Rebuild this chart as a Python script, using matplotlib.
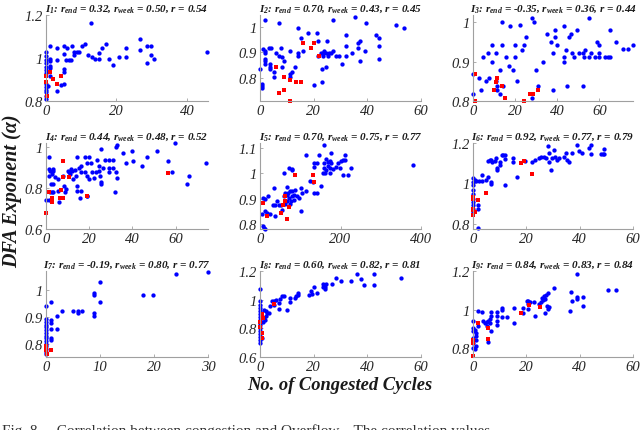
import numpy as np
import matplotlib
matplotlib.use('Agg')
import matplotlib.pyplot as plt
from matplotlib.ticker import FuncFormatter

plt.rcParams['font.family'] = 'Liberation Serif'
plt.rcParams['mathtext.fontset'] = 'custom'
plt.rcParams['mathtext.rm'] = 'Liberation Serif:bold:italic'
plt.rcParams['mathtext.it'] = 'Liberation Serif:bold:italic'
plt.rcParams['mathtext.bf'] = 'Liberation Serif:bold:italic'

# correlation values shown in the panel titles
r_end = ['0.32', '0.70', '-0.35', '0.44', '0.70', '0.92', '-0.19', '0.60', '0.84']
r_week = ['0.50', '0.43', '0.36', '0.48', '0.75', '0.77', '0.80', '0.82', '0.83']
r_all = ['0.54', '0.45', '0.44', '0.52', '0.77', '0.79', '0.77', '0.81', '0.84']

# (congested cycles, DFA exponent); blue = weekday, red = weekend
p1_blue = np.array([[12.9,1.165],[26.8,1.088],[26.8,1.037],[28.8,1.056],[29.9,1.056],[29.9,1.016],[30.7,0.995],
    [28.8,0.976],[45.7,1.027],[22.8,1.045],[22.8,1.005],[20.8,1.005],[18.9,0.966],[17.9,0.995],[16.9,1.067],
    [15.9,1.045],[15.0,1.024],[15.0,0.995],[14.0,0.995],[13.2,1.005],[12.0,1.016],[11.2,1.067],[10.1,1.056],
    [9.3,1.027],[8.7,1.027],[7.5,1.056],[7.9,1.027],[8.0,1.013],[7.1,0.99],[6.5,0.99],[5.6,0.99],[5.2,1.019],
    [6.1,1.045],[5.2,1.056],[3.2,1.045],[3.2,0.99],[5.2,0.947],[5.2,0.936],[5.2,0.88],[4.2,0.875],[3.2,0.848],
    [1.1,1.056],[1.1,0.997],[1.1,0.917],[1.1,0.952],[0,1.03],[0,1.01],[0,0.99],[0,0.975],[0,0.96],[0,0.945],
    [0,0.93],[0,0.88],[0,0.865],[0,0.85],[0,0.84],[0,0.825],[0,0.81],[1.0,0.985],[1.0,0.965],[0.5,0.87]])
p1_red = np.array([[0,0.917],[1.0,0.936],[2.1,0.9],[3.2,0.877],[4.2,0.917],[0.2,0.824],[0,0.89]])

p2_blue = np.array([[1.9,1.025],[6.9,1.015],[14.1,0.996],[17.9,0.975],[21.2,0.975],[27.1,1.025],[35.4,1.036],
    [39.4,1.015],[50.5,1.006],[53.7,0.996],[32.2,0.966],[43.3,0.966],[44.2,0.955],[15.2,0.955],[21.5,0.943],
    [25.0,0.944],[32.2,0.925],[36.4,0.935],[37.3,0.945],[44.2,0.925],[27.1,0.904],[39.1,0.904],[36.6,0.916],
    [34.1,0.896],[32.2,0.885],[28.4,0.885],[29.4,0.885],[30.5,0.855],[37.3,0.865],[44.2,0.875],[22.6,0.896],
    [23.6,0.896],[24.5,0.896],[25.8,0.896],[21.5,0.885],[23.4,0.885],[25.3,0.885],[26.6,0.896],[24.0,0.905],
    [23.1,0.834],[24.6,0.843],[23.1,0.783],[20.2,0.773],[16.2,0.905],[14.1,0.885],[14.1,0.896],[11.0,0.905],
    [7.8,0.915],[6.1,0.896],[6.9,0.885],[8.2,0.883],[9.1,0.865],[8.1,0.842],[11.0,0.815],[12.0,0.824],
    [13.0,0.843],[11.1,0.803],[3.3,0.915],[1.3,0.913],[1.9,0.904],[1.9,0.896],[1.9,0.875],[1.9,0.865],
    [1.9,0.855],[3.8,0.855],[3.8,0.843],[3.8,0.834],[5.1,0.824],[5.1,0.803],[0,0.834],[0.9,0.777],[0.9,0.768],
    [0.9,0.76],[4.0,0.915]])
p2_red = np.array([[6.1,0.843],[6.9,0.741],[9.1,0.753],[9.1,0.803],[11.0,0.792],[11.0,0.711],[13.3,0.783],
    [15.2,0.783],[16.2,0.936],[18.9,0.915],[20.2,0.936],[22.1,0.885]])

p3_blue = np.array([[13.7,1.0],[17.6,0.989],[22.1,0.992],[27.9,1.011],[29.2,1.0],[43.0,0.989],[49.4,0.981],
    [55.2,1.011],[65.2,0.981],[8.9,0.942],[13.7,0.942],[11.0,0.921],[7.0,0.921],[4.9,0.911],[8.9,0.9],
    [12.9,0.879],[15.7,0.911],[17.3,0.889],[18.9,0.879],[20.0,0.942],[20.0,0.911],[23.2,0.929],[24.0,0.942],
    [25.2,0.961],[30.0,0.879],[33.2,0.9],[35.1,0.971],[37.1,0.95],[38.2,0.921],[39.0,0.962],[39.0,0.981],
    [40.1,0.942],[43.0,0.9],[43.0,0.911],[44.1,0.929],[45.4,0.962],[46.5,0.971],[47.0,0.921],[48.2,0.911],
    [50.2,0.921],[52.2,0.921],[52.5,0.911],[53.0,0.929],[56.2,0.921],[55.0,0.911],[58.1,0.911],[58.9,0.95],
    [60.0,0.942],[60.0,0.921],[60.0,0.911],[62.9,0.911],[64.0,0.911],[65.0,0.911],[68.1,0.95],[71.3,0.931],
    [73.5,0.931],[75.8,0.942],[44.6,0.839],[52.2,0.839],[38.2,0.829],[3.0,0.858],[3.8,0.829],[6.0,0.85],
    [7.8,0.858],[0.2,0.869],[0,0.818],[11.0,0.85],[11.6,0.839],[11.6,0.829],[12.9,0.818],[14.4,0.839],
    [20.8,0.85],[27.9,0.808],[31.1,0.839]])
p3_red = np.array([[1.0,0.869],[1.0,0.8],[11.0,0.847],[11.6,0.858],[10.0,0.829],[13.7,0.839],[15.2,0.808],
    [24.0,0.8],[27.1,0.818],[28.4,0.818],[31.1,0.829]])

p4_blue = np.array([[59.5,1.02],[33.1,1.011],[32.3,1.0],[25.4,0.989],[40.0,0.979],[35.8,0.97],[51.5,0.979],
    [46.9,0.951],[40.5,0.93],[36.9,0.921],[44.6,0.91],[56.6,0.93],[74.2,0.921],[58.2,0.877],[66.2,0.861],
    [65.4,0.82],[33.1,0.849],[32.0,0.782],[14.2,0.951],[18.2,0.951],[20.0,0.951],[23.4,0.938],[27.1,0.938],
    [29.2,0.938],[30.8,0.938],[18.8,0.921],[20.8,0.921],[24.6,0.91],[26.5,0.897],[29.2,0.897],[30.8,0.897],
    [16.2,0.91],[15.4,0.897],[13.5,0.889],[12.0,0.885],[10.8,0.88],[13.8,0.861],[16.2,0.877],[18.2,0.877],
    [18.8,0.861],[21.2,0.877],[23.1,0.877],[24.6,0.885],[25.1,0.861],[29.2,0.877],[32.3,0.877],[20.0,0.844],
    [22.3,0.848],[25.4,0.831],[25.4,0.82],[14.2,0.811],[14.2,0.787],[16.2,0.787],[15.8,0.749],[18.8,0.762],
    [19.2,0.762],[1.5,0.951],[1.5,0.893],[1.8,0.885],[3.1,0.885],[3.4,0.893],[2.8,0.869],[1.5,0.861],
    [2.3,0.82],[3.4,0.82],[1.8,0.782],[2.8,0.782],[3.4,0.782],[5.4,0.844],[8.5,0.811],[8.9,0.782],[9.2,0.795],
    [5.8,0.73],[1.5,0.743],[0,0.741],[5.4,0.787],[4.3,0.852],[10.0,0.885],[11.1,0.869],[11.5,0.893],
    [12.3,0.844],[7.7,0.861]])
p4_red = np.array([[8.0,0.93],[7.7,0.852],[10.8,0.852],[6.9,0.792],[6.5,0.749],[7.7,0.749],[2.8,0.751],
    [2.8,0.73],[1.2,0.782],[0,0.68],[18.8,0.762],[56.5,0.872]])

p5_blue = np.array([[379,1.032],[160,1.113],[114,1.071],[147,1.071],[177,1.081],[211,1.071],[164,1.058],
    [133,1.039],[141,1.039],[135,1.026],[158,1.039],[168,1.045],[173,1.048],[177,1.039],[168,1.029],
    [175,1.023],[160,1.023],[164,1.013],[156,1.003],[162,1.003],[173,1.003],[181,1.016],[189,1.026],
    [194,1.039],[200,1.048],[206,1.052],[211,1.052],[198,1.023],[206,0.994],[219,0.994],[227,1.023],
    [59,1.003],[73,1.023],[80,1.019],[80,1.013],[125,0.971],[131,0.964],[141,0.922],[133,0.922],[152,0.951],
    [114,0.931],[101,0.942],[105,0.922],[97,0.903],[103,0.853],[80,0.929],[84,0.916],[80,0.909],[74,0.929],
    [67,0.948],[69,0.922],[66,0.916],[72,0.903],[76,0.89],[67,0.89],[63,0.877],[74,0.877],[84,0.896],
    [91,0.909],[86,0.935],[63,0.922],[59,0.909],[34,0.942],[42,0.892],[32,0.873],[38,0.873],[46,0.873],
    [51,0.873],[55,0.857],[21,0.909],[13,0.899],[7,0.903],[4,0.84],[13,0.853],[17,0.844],[25,0.84],[38,0.831],
    [8,0.792],[11,0.783],[13,0.779]])
p5_red = np.array([[8,0.883],[17,0.831],[52,0.844],[57,0.873],[61,0.89],[63,0.909],[66,0.821],[72,0.868],
    [86,0.994],[131,0.994],[135,0.964]])

p6_blue = np.array([[5.7,1.113],[6.3,1.117],[6.9,1.117],[7.3,1.108],[8.8,1.125],[9.1,1.067],[9.1,1.075],
    [10.1,1.092],[10.7,1.142],[11.4,1.142],[12.0,1.142],[12.0,1.122],[10.1,1.108],[8.2,1.112],[12.0,0.992],
    [14.9,1.125],[14.9,1.108],[16.4,1.033],[19.6,1.112],[22.1,1.108],[23.4,1.117],[24.6,1.125],[25.5,1.133],
    [26.5,1.133],[27.5,1.125],[28.0,1.183],[28.4,1.15],[28.4,1.108],[29.3,1.067],[29.7,1.125],[30.3,1.167],
    [30.9,1.133],[31.6,1.117],[32.2,1.125],[34.3,1.133],[34.7,1.15],[35.4,1.117],[36.0,1.108],[37.2,1.15],
    [39.1,1.192],[39.8,1.158],[40.7,1.15],[43.6,1.175],[44.2,1.145],[44.4,1.192],[48.0,1.145],[48.6,1.145],
    [49.2,1.172],[49.2,1.145],[0,1.025],[0,1.008],[0,0.992],[0,0.967],[0,0.95],[0,0.925],[0,0.908],[0,0.892],
    [0,0.875],[0,0.858],[0.6,1.017],[1.3,1.012],[2.3,1.012],[3.2,1.012],[3.2,1.042],[4.8,1.017],[5.7,1.033],
    [6.6,1.005],[6.9,0.995],[1.9,0.895],[1.9,0.875],[1.9,0.778]])
p6_red = np.array([[0,0.933],[0,0.925],[0,0.875],[0,0.867],[0,0.845],[0.6,0.858],[1.9,0.92],[4.8,0.955],
    [17.9,1.103],[19.2,1.113],[22.1,1.045]])

p7_blue = np.array([[24.0,1.058],[30.0,1.067],[10.0,1.029],[10.0,0.953],[8.9,0.99],[8.9,0.982],[8.9,0.914],
    [8.9,0.904],[18.0,0.982],[19.9,0.982],[6.7,0.923],[5.9,0.92],[5.9,0.914],[5.0,0.923],[3.0,0.923],
    [2.0,0.904],[2.0,0.855],[0.9,0.953],[0.9,0.886],[0.9,0.876],[0.9,0.855],[0.9,0.822],[0.9,0.815],
    [0,0.941],[0,0.89],[0,0.88],[0,0.87],[0,0.86],[0,0.85],[0,0.84],[0,0.83],[0,0.82],[0,0.81],[0,0.80],
    [0,0.79],[0,0.78],[0,0.77],[0,0.76]])
p7_red = np.array([[0,0.791],[0,0.776],[0.1,0.763],[0.9,0.776]])

p8_blue = np.array([[0,1.071],[36.0,1.181],[42.6,1.181],[52.7,1.153],[42.6,1.101],[38.9,1.101],[37.6,1.141],
    [33.8,1.129],[30.3,1.129],[28.2,1.153],[26.9,1.111],[23.4,1.111],[24.6,1.111],[23.4,1.087],[24.4,1.087],
    [24.4,1.071],[21.2,1.047],[20.2,1.089],[18.9,1.059],[19.3,1.04],[18.3,1.031],[14.1,1.047],[14.1,1.031],
    [13.3,1.024],[12.9,1.012],[11.0,1.012],[11.0,0.984],[10.1,0.929],[8.2,1.024],[8.8,1.024],[7.6,1.007],
    [6.1,1.0],[6.9,0.976],[6.9,0.936],[5.1,0.988],[4.4,0.988],[5.1,0.965],[3.8,0.953],[1.6,0.929],
    [2.3,0.922],[2.5,0.906],[3.2,0.906],[2.3,0.889],[1.6,0.871],[1.3,0.847],[1.9,0.859],[0,0.99],[0,0.96],
    [0,0.94],[0,0.92],[0,0.9],[0,0.88],[0,0.86],[0,0.84],[0,0.82],[0,0.8],[0,0.78],[0,0.76],[0,0.74],
    [0,0.72],[0,0.7],[0.6,0.73]])
p8_red = np.array([[5.1,0.972],[0.6,0.899],[1.0,0.875],[0.6,0.765],[0.9,0.73],[0,0.847],[0,0.812]])

p9_blue = np.array([[39.1,1.187],[50.5,1.101],[53.7,1.101],[30.3,1.114],[36.6,1.093],[39.1,1.066],
    [39.1,1.057],[41.3,1.066],[41.3,1.021],[37.2,1.043],[36.2,0.991],[28.0,1.087],[27.4,1.078],[26.6,1.071],
    [25.8,1.06],[26.1,1.048],[27.0,1.057],[27.8,1.021],[28.2,1.004],[28.4,1.012],[27.1,0.982],[25.5,1.039],
    [24.6,1.03],[23.0,1.039],[21.5,1.039],[20.2,1.043],[20.8,1.043],[20.8,1.03],[20.8,1.004],[23.1,0.968],
    [18.9,1.007],[18.9,0.982],[15.2,1.007],[15.2,0.929],[12.9,0.964],[11.0,1.007],[11.0,1.0],[11.0,0.964],
    [9.1,0.989],[9.1,0.968],[9.1,0.941],[9.1,0.923],[6.9,0.989],[6.9,0.968],[6.3,0.954],[5.7,0.941],
    [5.1,0.936],[6.3,0.932],[3.8,0.941],[4.4,0.929],[5.1,0.915],[6.9,0.888],[5.7,0.834],[1.9,0.991],
    [3.2,0.986],[0,0.941],[0,0.906],[0,0.888],[0,0.852],[0,0.826],[0,0.804],[0.6,0.897],[1.0,0.879],
    [1.3,0.865],[1.9,0.915],[1.3,0.843],[0.6,0.799],[1.0,0.811]])
p9_red = np.array([[0,0.843],[0,0.826],[0,0.763],[1.9,0.932],[5.7,0.906],[5.7,0.847],[17.9,0.982],
    [21.1,1.025],[25.3,1.012]])

blues = [p1_blue, p2_blue, p3_blue, p4_blue, p5_blue, p6_blue, p7_blue, p8_blue, p9_blue]
reds = [p1_red, p2_red, p3_red, p4_red, p5_red, p6_red, p7_red, p8_red, p9_red]

xlims = [(0, 46), (0, 60), (0, 76), (0, 75), (0, 400), (0, 60), (0, 30), (0, 60), (0, 60)]
ylims = [(0.8, 1.2), (0.71, 1.045), (0.8, 1.018), (0.6, 1.02), (0.78, 1.12), (0.775, 1.2),
         (0.75, 1.07), (0.6, 1.2), (0.756, 1.2)]
xticks = [[0, 20, 40], [0, 20, 40, 60], [0, 20, 40, 60], [0, 20, 40, 60], [0, 200, 400],
          [0, 20, 40, 60], [0, 10, 20, 30], [0, 20, 40, 60], [0, 20, 40, 60]]
yticks = [[0.8, 1, 1.2], [0.8, 0.9, 1], [0.8, 0.9, 1], [0.6, 0.8, 1], [0.8, 0.9, 1, 1.1],
          [0.8, 1, 1.2], [0.8, 0.9, 1], [0.6, 0.8, 1, 1.2], [0.8, 1, 1.2]]

W, H = 640, 431
fig = plt.figure(figsize=(6.4, 4.31), dpi=100)
lefts = [46, 260, 473]
widths = [162, 161, 160]
tops = [16, 144, 272]
hgt = 86
fmt = FuncFormatter(lambda v, p: f'{v:g}')

for i in range(9):
    r, c = divmod(i, 3)
    ax = fig.add_axes([lefts[c] / W, 1 - (tops[r] + hgt) / H, widths[c] / W, hgt / H])
    b = blues[i]
    rd = reds[i]
    ax.plot(b[:, 0], b[:, 1], 'o', color='#0000ff', ms=3.1, mew=0, clip_on=False)
    ax.plot(rd[:, 0], rd[:, 1], 's', color='#ff0000', ms=2.9, mew=0, clip_on=False)
    ax.set_xlim(xlims[i])
    ax.set_ylim(ylims[i])
    ax.set_xticks(xticks[i])
    ax.set_yticks(yticks[i])
    ax.xaxis.set_major_formatter(fmt)
    ax.yaxis.set_major_formatter(fmt)
    for s in ['top', 'right']:
        ax.spines[s].set_visible(False)
    for s in ['left', 'bottom']:
        ax.spines[s].set_color('#a0a0a0')
        ax.spines[s].set_linewidth(0.8)
    ax.tick_params(direction='in', length=2, width=0.6, color='#a0a0a0', labelcolor='#262626',
                   labelsize=10.5, pad=2)
    for lab in ax.get_xticklabels() + ax.get_yticklabels():
        lab.set_fontstyle('italic')
    ax.set_title(rf'$I_{i + 1}$: $r_{{end}}$ = {r_end[i]}, $r_{{week}}$ = {r_week[i]}, $r$ = {r_all[i]}',
                 fontsize=8, fontweight='bold', fontstyle='italic', pad=3, color='#1a1a1a')

fig.text(12 / W, 1 - 191 / H, 'DFA Exponent (α)', rotation=90, ha='center', va='center',
         fontsize=14.5, fontweight='bold', fontstyle='italic', color='#1a1a1a')
fig.text(340 / W, 1 - 386 / H, 'No. of Congested Cycles', ha='center', va='center',
         fontsize=13.3, fontweight='bold', fontstyle='italic', color='#1a1a1a')
fig.text(2 / W, 1 - 424 / H, 'Fig. 8.    Correlation between congestion and Overflow.   The correlation values',
         ha='left', va='top', fontsize=11, color='#333333')

fig.savefig('out.png', dpi=100)
